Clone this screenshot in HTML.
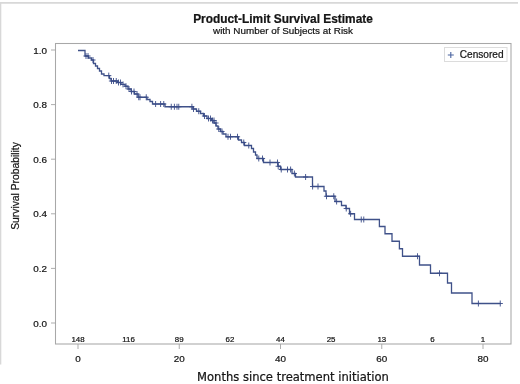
<!DOCTYPE html>
<html><head><meta charset="utf-8"><title>Product-Limit Survival Estimate</title>
<style>
html,body{margin:0;padding:0;background:#fff;}
body{width:520px;height:384px;overflow:hidden;font-family:"Liberation Sans",sans-serif;}
svg{display:block}
text{font-family:"Liberation Sans",sans-serif;fill:#151515;stroke:#151515;stroke-width:0.22px}
</style></head><body>
<svg width="520" height="384" viewBox="0 0 520 384">
<rect width="520" height="384" fill="#fff"/>
<path d="M0 2.9H518M0.5 2.2V364.5" stroke="#d8d8d8" stroke-width="1.6" fill="none"/>
<text x="283" y="22.5" text-anchor="middle" font-size="11.9" font-weight="bold" fill="#111">Product-Limit Survival Estimate</text>
<text x="283" y="33.5" text-anchor="middle" font-size="9.9">with Number of Subjects at Risk</text>
<rect x="55.5" y="43.5" width="455.5" height="300.5" fill="none" stroke="#a8a8a8" stroke-width="1.05"/>
<path d="M78.00 344v5M179.25 344v5M280.50 344v5M381.75 344v5M483.00 344v5M51 323.00h4.5M51 268.40h4.5M51 213.80h4.5M51 159.20h4.5M51 104.60h4.5M51 50.00h4.5" stroke="#a4a4a4" stroke-width="0.9" fill="none"/>
<g font-size="9.9" text-anchor="end"><text x="47" y="326.5">0.0</text><text x="47" y="271.9">0.2</text><text x="47" y="217.3">0.4</text><text x="47" y="162.7">0.6</text><text x="47" y="108.1">0.8</text><text x="47" y="53.5">1.0</text></g>
<g font-size="9.9" text-anchor="middle"><text x="78.0" y="361.6">0</text><text x="179.2" y="361.6">20</text><text x="280.5" y="361.6">40</text><text x="381.8" y="361.6">60</text><text x="483.0" y="361.6">80</text></g>
<g font-size="7.9" text-anchor="middle"><text x="78.0" y="341.8">148</text><text x="128.6" y="341.8">116</text><text x="179.2" y="341.8">89</text><text x="229.9" y="341.8">62</text><text x="280.5" y="341.8">44</text><text x="331.1" y="341.8">25</text><text x="381.8" y="341.8">13</text><text x="432.4" y="341.8">6</text><text x="483.0" y="341.8">1</text></g>
<text transform="translate(18.5,186) rotate(-90)" text-anchor="middle" font-size="10.3">Survival Probability</text>
<rect x="444.5" y="47.5" width="62.5" height="14" fill="#fff" stroke="#dcdcdc" stroke-width="1"/>
<path d="M447.8 55h6M450.8 52v6" stroke="#4a64a0" stroke-width="1.1" fill="none"/>
<text x="459.8" y="57.8" font-size="10.1">Censored</text>
<path d="M78 50.5H85.0V56.0H88.5V58.0H91.5V60.0H93.5V63.5H95.5V66.0H97.5V68.5H99.5V71.0H101.5V74.0H104.0V75.6H109.5V78.5H111.0V81.0H117.5V82.5H121.0V84.4H125.0V86.25H128.0V89.0H131.0V91.5H134.5V94.0H138.0V97.25H147.0V99.5H150.0V101.5H152.5V104.0H165.0V106.75H193.0V109.0H196.5V111.25H200.5V113.5H203.5V116.0H207.0V118.5H211.5V120.5H214.0V123.0H216.0V126.0H218.0V129.0H220.5V131.5H223.0V134.0H226.0V136.75H238.5V140.0H241.5V142.5H244.5V145.5H251.5V148.5H253.5V152.0H255.5V155.0H257.0V158.5H263.5V162.5H278.0V166.25H280.5V169.5H292.0V173.5H295.5V177.0H312.5V186.5H324.0V191.0H326.0V196.25H335.0V201.5H341.5V205.5H346.0V208.5H349.5V213.75H354.5V219.5H379.4V226.5H385.0V233.75H392.0V241.25H399.4V248.75H402.5V256.25H419.5V265.0H430.5V273.25H447.5V283.0H451.5V293.0H472.0V303.5H500.5" stroke="#3f5189" stroke-width="1.3" fill="none" stroke-linejoin="miter"/>
<path d="M83.4 56.0h5.2M86 53.0v6M85.4 56.0h5.2M88 53.0v6M90.4 60.0h5.2M93 57.0v6M106.15 75.6h5.2M108.75 72.6v6M108.9 81.0h5.2M111.5 78.0v6M110.9 81.0h5.2M113.5 78.0v6M113.65 81.0h5.2M116.25 78.0v6M115.9 82.5h5.2M118.5 79.5v6M117.9 82.5h5.2M120.5 79.5v6M120.4 84.4h5.2M123 81.4v6M123.4 86.25h5.2M126 83.25v6M126.4 89.0h5.2M129 86.0v6M128.9 91.5h5.2M131.5 88.5v6M131.4 91.5h5.2M134 88.5v6M134.4 94.0h5.2M137 91.0v6M136.15 97.25h5.2M138.75 94.25v6M137.4 97.25h5.2M140 94.25v6M143.65 97.25h5.2M146.25 94.25v6M153.0 104.0h5.2M155.6 101.0v6M158.0 104.0h5.2M160.6 101.0v6M161.15 104.0h5.2M163.75 101.0v6M168.65 106.75h5.2M171.25 103.75v6M171.8 106.75h5.2M174.4 103.75v6M174.4 106.75h5.2M177 103.75v6M176.15 106.75h5.2M178.75 103.75v6M189.3 106.75h5.2M191.9 103.75v6M190.9 109.0h5.2M193.5 106.0v6M196.15 111.25h5.2M198.75 108.25v6M201.9 116.0h5.2M204.5 113.0v6M205.9 118.5h5.2M208.5 115.5v6M207.9 118.5h5.2M210.5 115.5v6M209.9 120.5h5.2M212.5 117.5v6M211.4 120.5h5.2M214 117.5v6M213.4 123.0h5.2M216 120.0v6M216.15 129.0h5.2M218.75 126.0v6M219.4 131.5h5.2M222 128.5v6M225.4 136.75h5.2M228 133.75v6M227.9 136.75h5.2M230.5 133.75v6M234.9 136.75h5.2M237.5 133.75v6M241.15 142.5h5.2M243.75 139.5v6M246.15 145.5h5.2M248.75 142.5v6M256.15 158.5h5.2M258.75 155.5v6M259.9 158.5h5.2M262.5 155.5v6M267.4 162.5h5.2M270 159.5v6M274.9 162.5h5.2M277.5 159.5v6M275.59999999999997 166.25h5.2M278.2 163.25v6M278.65 169.5h5.2M281.25 166.5v6M284.9 169.5h5.2M287.5 166.5v6M288.0 169.5h5.2M290.6 166.5v6M291.79999999999995 173.5h5.2M294.4 170.5v6M303.0 177.0h5.2M305.6 174.0v6M310.0 186.5h5.2M312.6 183.5v6M315.4 186.5h5.2M318 183.5v6M323.9 196.25h5.2M326.5 193.25v6M331.15 196.25h5.2M333.75 193.25v6M334.0 201.5h5.2M336.6 198.5v6M343.65 208.5h5.2M346.25 205.5v6M348.0 213.75h5.2M350.6 210.75v6M358.65 219.5h5.2M361.25 216.5v6M361.15 219.5h5.2M363.75 216.5v6M414.9 256.25h5.2M417.5 253.25v6M436.9 273.25h5.2M439.5 270.25v6M475.79999999999995 303.5h5.2M478.4 300.5v6M497.65 303.5h5.2M500.25 300.5v6" stroke="#3a4c88" stroke-width="0.9" fill="none"/>
<text x="293" y="381.3" text-anchor="middle" style="font-family:'DejaVu Sans','Liberation Sans',sans-serif;font-size:11.55px" fill="#222">Months since treatment initiation</text>
</svg>
</body></html>
